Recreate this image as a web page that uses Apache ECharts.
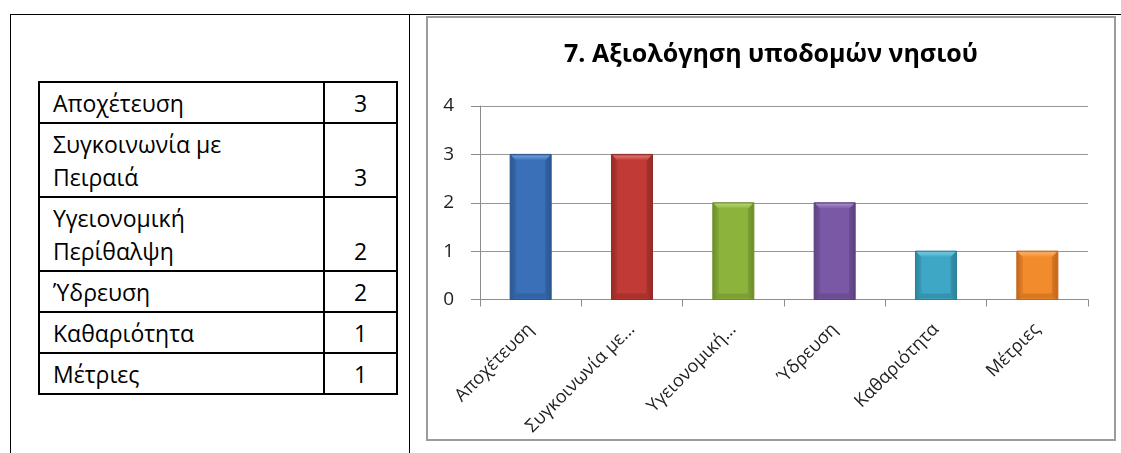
<!DOCTYPE html>
<html>
<head>
<meta charset="utf-8">
<script src="https://cdn.jsdelivr.net/npm/echarts@6/dist/echarts.min.js"></script>
<style>
  html, body { margin: 0; padding: 0; background: #fff; }
  body { width: 1121px; height: 453px; overflow: hidden; position: relative; font-family: "Open Sans", sans-serif; }
  .rule { position: absolute; background: #000; }
  #tbl { position: absolute; left: 38px; top: 81px; border-collapse: collapse; table-layout: fixed; width: 358px; font-size: 23px; color: #000; }
  #tbl td { border: 2px solid #000; line-height: 33px; padding: 4px 0 2px 0; vertical-align: bottom; }
  #tbl td.name { padding-left: 13px; padding-right: 40px; vertical-align: top; }
  #tbl td.num { text-align: center; }
  #frame { position: absolute; left: 426px; top: 16px; width: 690px; height: 425px; border: 2px solid #9b9b9b; box-sizing: border-box; }
  #chart { width: 686px; height: 421px; }
</style>
</head>
<body>
<div class="rule" style="left:10px;top:14px;width:1111px;height:1px"></div>
<div class="rule" style="left:10px;top:14px;width:1px;height:439px"></div>
<div class="rule" style="left:409px;top:14px;width:1px;height:439px"></div>

<table id="tbl">
  <colgroup><col style="width:285px"><col style="width:73px"></colgroup>
  <tbody></tbody>
</table>

<div id="frame"><div id="chart"></div></div>

<script>
// Infrastructure ratings: category names and number of answers
const categories = ['Αποχέτευση', 'Συγκοινωνία με Πειραιά', 'Υγειονομική Περίθαλψη', 'Ύδρευση', 'Καθαριότητα', 'Μέτριες'];
const counts = [3, 3, 2, 2, 1, 1];
// Shortened category names shown under the bars
const tickLabels = ['Αποχέτευση', 'Συγκοινωνία με...', 'Υγειονομική...', 'Ύδρευση', 'Καθαριότητα', 'Μέτριες'];
const chartTitle = '7. Αξιολόγηση υποδομών νησιού';

// Bar shades: [edge, body, bevel highlight]
const palette = [
  ['#2a5690', '#3a70b8', '#6f9ddb'],
  ['#922a26', '#c23a35', '#e07570'],
  ['#6b8c2b', '#8cb43c', '#b5d672'],
  ['#5b417f', '#7b58a6', '#a58bc8'],
  ['#2b8099', '#3fa7c6', '#7bcbe2'],
  ['#c0661a', '#f28b2c', '#f9b46e']
];

// Side table
const tbody = document.querySelector('#tbl tbody');
categories.forEach((name, i) => {
  const tr = document.createElement('tr');
  const a = document.createElement('td');
  a.className = 'name';
  a.textContent = name;
  const b = document.createElement('td');
  b.className = 'num';
  b.textContent = String(counts[i]);
  tr.appendChild(a);
  tr.appendChild(b);
  tbody.appendChild(tr);
});

function bevelBar(params, api) {
  const i = api.value(0);
  const v = api.value(1);
  const top = api.coord([i, v]);
  const base = api.coord([i, 0]);
  const w = api.size([1, 0])[0] * 0.405;
  const x = top[0] - w / 2;
  const y = top[1];
  const h = base[1] - top[1];
  const b = Math.min(6, h / 2);
  const [edge, body, hi] = palette[i % palette.length];
  const fill = new echarts.graphic.LinearGradient(0, 0, 1, 0, [
    { offset: 0, color: edge },
    { offset: 0.14, color: body },
    { offset: 0.86, color: body },
    { offset: 1, color: edge }
  ]);
  return {
    type: 'group',
    children: [
      { type: 'rect', shape: { x: x, y: y, width: w, height: h }, style: { fill: fill, stroke: edge, lineWidth: 1 } },
      { type: 'polygon', shape: { points: [[x + 1, y + 1], [x + w - 1, y + 1], [x + w - b, y + b], [x + b, y + b]] },
        style: { fill: new echarts.graphic.LinearGradient(0, 0, 0, 1, [{ offset: 0, color: hi }, { offset: 1, color: body }]) } },
      { type: 'polygon', shape: { points: [[x + 1, y + 1], [x + b, y + b], [x + b, y + h - b], [x + 1, y + h - 1]] },
        style: { fill: edge, opacity: 0.35 } },
      { type: 'polygon', shape: { points: [[x + w - 1, y + 1], [x + w - b, y + b], [x + w - b, y + h - b], [x + w - 1, y + h - 1]] },
        style: { fill: edge, opacity: 0.55 } },
      { type: 'polygon', shape: { points: [[x + 1, y + h - 1], [x + w - 1, y + h - 1], [x + w - b, y + h - b], [x + b, y + h - b]] },
        style: { fill: edge, opacity: 0.5 } }
    ]
  };
}

const chart = echarts.init(document.getElementById('chart'), null, { renderer: 'canvas' });
chart.setOption({
  animation: false,
  backgroundColor: '#fff',
  title: {
    text: chartTitle,
    left: 'center',
    top: 22,
    padding: 0,
    textStyle: { fontFamily: 'Open Sans', fontWeight: 'bold', fontSize: 25, color: '#000', lineHeight: 30 }
  },
  grid: { left: 52, right: 26, top: 88, bottom: 139.5, containLabel: false },
  xAxis: {
    type: 'category',
    data: categories,
    axisLine: { lineStyle: { color: '#8c8c8c', width: 1 } },
    axisTick: { show: true, length: 7, lineStyle: { color: '#8c8c8c' } },
    axisLabel: {
      rotate: 45,
      margin: 27,
      interval: 0,
      fontFamily: 'Open Sans',
      fontSize: 18,
      color: '#222',
      formatter: (value, idx) => tickLabels[idx]
    },
    splitLine: { show: false }
  },
  yAxis: {
    type: 'value',
    min: 0,
    max: 4,
    interval: 1,
    axisLine: { show: true, lineStyle: { color: '#8c8c8c', width: 1 } },
    axisTick: { show: true, length: 9, lineStyle: { color: '#8c8c8c' } },
    axisLabel: { margin: 26, fontFamily: 'Open Sans', fontSize: 19, color: '#222' },
    splitLine: { show: true, lineStyle: { color: '#969696', width: 1 } }
  },
  series: [{
    type: 'custom',
    renderItem: bevelBar,
    encode: { x: 0, y: 1 },
    data: counts.map((c, i) => [i, c])
  }]
});
</script>
</body>
</html>
